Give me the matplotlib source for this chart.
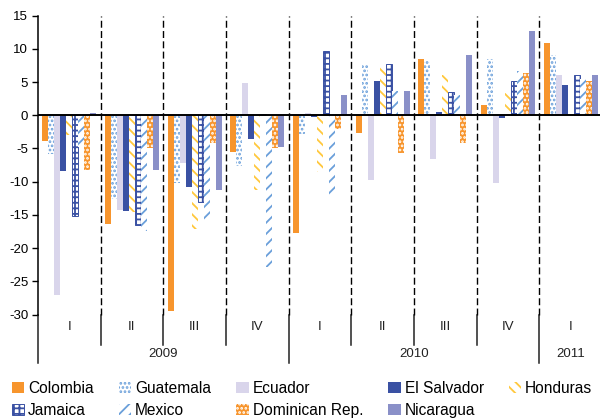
import numpy as np
import matplotlib
matplotlib.use("Agg")
import matplotlib.pyplot as plt

plt.rcParams["font.family"] = ["Liberation Sans", "DejaVu Sans"]
plt.rcParams["axes.unicode_minus"] = False
plt.rcParams["hatch.linewidth"] = 1.3

# Quarterly growth by country (%)
quarters = ["I", "II", "III", "IV", "I", "II", "III", "IV", "I"]
years = ["2009", "2010", "2011"]
year_spans = [(0, 3), (4, 7), (8, 8)]

colombia = [-3.9, -16.4, -29.5, -5.6, -17.7, -2.6, 8.5, 1.6, 10.9]
guatemala = [-5.8, -12.6, -10.2, -7.6, -2.8, 7.5, 8.4, 8.5, 9.1]
ecuador = [-27.1, -14.3, -7.2, 4.9, 0.35, -9.8, -6.6, -10.2, 6.0]
el_salvador = [-8.4, -14.4, -10.8, -3.5, -0.2, 5.2, 0.55, -0.45, 4.6]
honduras = [-2.9, -14.6, -17.1, -11.3, -8.6, 7.2, 6.1, 3.4, np.nan]
jamaica = [-15.1, -16.5, -13.0, 0.2, 9.7, 7.8, 3.5, 5.1, 6.1]
mexico = [-4.7, -17.4, -15.9, -22.8, -12.0, 3.7, 3.1, 6.6, 5.5]
dominican_rep = [-8.3, -4.9, -4.2, -4.9, -2.1, -5.7, -4.1, 6.3, 5.1]
nicaragua = [0.3, -8.3, -11.2, -4.7, 3.1, 3.6, 9.1, 12.7, 6.1]

ORANGE = "#F7952D"
LBLUE = "#6A9FDA"
LAV = "#D9D5EB"
NAVY = "#3A51A3"
YELLOW = "#FFC83D"
PERI = "#8A90C8"

series = [
    ("Colombia", colombia, dict(facecolor=ORANGE, edgecolor=ORANGE, hatch=None, linewidth=0)),
    ("Guatemala", guatemala, dict(facecolor="white", edgecolor=LBLUE, hatch="....", linewidth=0)),
    ("Ecuador", ecuador, dict(facecolor=LAV, edgecolor=LAV, hatch=None, linewidth=0)),
    ("El Salvador", el_salvador, dict(facecolor=NAVY, edgecolor=NAVY, hatch=None, linewidth=0)),
    ("Honduras", honduras, dict(facecolor="white", edgecolor=YELLOW, hatch="\\\\\\", linewidth=0)),
    ("Jamaica", jamaica, dict(facecolor="white", edgecolor=NAVY, hatch="+++", linewidth=0.7)),
    ("Mexico", mexico, dict(facecolor="white", edgecolor=LBLUE, hatch="///", linewidth=0)),
    ("Dominican Rep.", dominican_rep, dict(facecolor=ORANGE, edgecolor="white", hatch="....", linewidth=0)),
    ("Nicaragua", nicaragua, dict(facecolor=PERI, edgecolor=PERI, hatch=None, linewidth=0)),
]

W, H = 600, 420
fig = plt.figure(figsize=(W / 100, H / 100), dpi=100)
left_px, right_px, top_px, bot_px = 38.0, 602.0, 15.7, 314.5
ax = fig.add_axes([left_px / W, 1 - bot_px / H,
                   (right_px - left_px) / W, (bot_px - top_px) / H])

x = np.arange(len(quarters))
bw = 0.096
n = len(series)
handles = {}
for i, (name, vals, st) in enumerate(series):
    b = ax.bar(x + (i - (n - 1) / 2) * bw, vals, width=bw, label=name, **st)
    handles[name] = b

ax.set_xlim(-0.5, len(quarters) - 0.5)
ax.set_ylim(-30, 15)
ax.set_yticks(np.arange(-30, 16, 5))
ax.tick_params(axis="y", direction="out", length=4, width=1, labelsize=9.5, pad=3)
ax.set_xticks([])
for s in ["top", "right", "bottom"]:
    ax.spines[s].set_visible(False)
ax.spines["left"].set_linewidth(1.1)
ax.spines["left"].set_bounds(-30, 15)

# zero line
ax.axhline(0, color="black", lw=1.4, zorder=5)

# dashed separators between quarters
for b in np.arange(0.5, len(quarters) - 0.5, 1):
    ax.plot([b, b], [-30, 15], color="black", lw=1.0,
            linestyle=(0, (5, 2.4)), zorder=4, clip_on=False)

# category axis below the plot
tr = ax.get_xaxis_transform()
ax_h = bot_px - top_px
q_label_y = -(327 - bot_px) / ax_h
y_label_y = -(354 - bot_px) / ax_h
q_sep_end = -(345 - bot_px) / ax_h
y_sep_end = -(363 - bot_px) / ax_h

for i, q in enumerate(quarters):
    ax.text(i, q_label_y, q, transform=tr, ha="center", va="center",
            fontsize=9.5, color="#222222")
for yr, (a, b) in zip(years, year_spans):
    ax.text((a + b) / 2, y_label_y, yr, transform=tr, ha="center",
            va="center", fontsize=9.5, color="#222222")

year_bounds = [3.5, 7.5]
for b in np.arange(0.5, len(quarters) - 0.5, 1):
    end = y_sep_end if b in year_bounds else q_sep_end
    ax.plot([b, b], [0, end], transform=tr, color="#222222", lw=1.1,
            clip_on=False)
ax.plot([-0.5, -0.5], [0, y_sep_end], transform=tr, color="#222222",
        lw=1.1, clip_on=False)

# legend, two rows
order = ["Colombia", "Jamaica", "Guatemala", "Mexico", "Ecuador",
         "Dominican Rep.", "El Salvador", "Nicaragua", "Honduras"]
leg = fig.legend([handles[k] for k in order], order, ncol=5,
                 loc="upper left", bbox_to_anchor=(11.5 / W, 1 - 381 / H),
                 frameon=False, fontsize=11.2, handlelength=0.8,
                 handleheight=0.74, handletextpad=0.25, columnspacing=1.62,
                 labelspacing=0.45, borderpad=0, borderaxespad=0)

fig.savefig("out.png", dpi=100)
